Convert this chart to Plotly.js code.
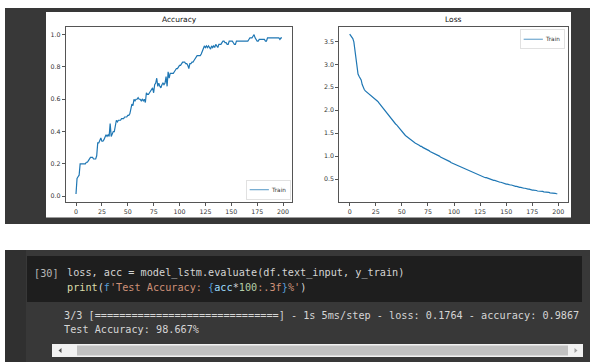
<!DOCTYPE html>
<html>
<head>
<meta charset="utf-8">
<script src="https://cdn.plot.ly/plotly-3.0.1.min.js"></script>
<style>html,body{margin:0;padding:0;background:#fff;}#chart{width:590px;height:362px;}</style>
</head>
<body>
<div id="chart"></div>
<script>
// ---------- data ----------
const accuracy = [
  0.013, 0.11, 0.12, 0.13, 0.20, 0.20, 0.20, 0.20, 0.20, 0.20,
  0.21, 0.21, 0.22, 0.23, 0.24, 0.24, 0.24, 0.23, 0.23, 0.23,
  0.25, 0.33, 0.33, 0.35, 0.36, 0.34, 0.34, 0.35, 0.37, 0.38,
  0.37, 0.38, 0.37, 0.45, 0.37, 0.39, 0.40, 0.40, 0.43, 0.47,
  0.46, 0.47, 0.47, 0.47, 0.48, 0.48, 0.48, 0.49, 0.49, 0.49,
  0.50, 0.50, 0.51, 0.54, 0.57, 0.56, 0.60, 0.59, 0.60, 0.60,
  0.61, 0.60, 0.60, 0.59, 0.60, 0.59, 0.60, 0.58, 0.64, 0.63,
  0.63, 0.64, 0.65, 0.66, 0.67, 0.64, 0.69, 0.70, 0.73, 0.68,
  0.70, 0.68, 0.67, 0.69, 0.70, 0.69, 0.70, 0.74, 0.68, 0.77,
  0.73, 0.76, 0.76, 0.76, 0.76, 0.77, 0.78, 0.79, 0.79, 0.80,
  0.81, 0.81, 0.82, 0.83, 0.83, 0.83, 0.82, 0.82, 0.81, 0.79,
  0.82, 0.82, 0.83, 0.83, 0.84, 0.85, 0.86, 0.87, 0.87, 0.87,
  0.87, 0.88, 0.90, 0.92, 0.93, 0.92, 0.93, 0.92, 0.93, 0.92,
  0.91, 0.93, 0.92, 0.93, 0.92, 0.94, 0.93, 0.92, 0.94, 0.94,
  0.94, 0.95, 0.96, 0.96, 0.95, 0.95, 0.94, 0.94, 0.96, 0.96,
  0.96, 0.96, 0.95, 0.94, 0.94, 0.96, 0.96, 0.96, 0.96, 0.96,
  0.96, 0.96, 0.96, 0.96, 0.96, 0.96, 0.96, 0.97, 0.98, 0.98,
  0.98, 0.99, 1.00, 0.98, 0.97, 0.96, 0.96, 0.97, 0.97, 0.97,
  0.97, 0.97, 0.97, 0.96, 0.96, 0.98, 0.98, 0.98, 0.98, 0.98,
  0.98, 0.98, 0.98, 0.98, 0.98, 0.98, 0.98, 0.97, 0.98, 0.98
];
const loss = [
  3.66, 3.63, 3.60, 3.56, 3.49, 3.32, 3.12, 2.90, 2.79, 2.74,
  2.70, 2.66, 2.56, 2.49, 2.45, 2.42, 2.40, 2.38, 2.37, 2.35,
  2.34, 2.32, 2.30, 2.28, 2.25, 2.23, 2.21, 2.19, 2.16, 2.13,
  2.10, 2.07, 2.04, 2.01, 1.98, 1.95, 1.92, 1.89, 1.86, 1.83,
  1.80, 1.78, 1.76, 1.73, 1.70, 1.68, 1.65, 1.62, 1.59, 1.56,
  1.54, 1.51, 1.49, 1.46, 1.44, 1.42, 1.40, 1.38, 1.36, 1.35,
  1.33, 1.31, 1.30, 1.28, 1.27, 1.26, 1.24, 1.23, 1.21, 1.21,
  1.19, 1.18, 1.17, 1.16, 1.14, 1.13, 1.12, 1.10, 1.09, 1.08,
  1.07, 1.06, 1.04, 1.03, 1.02, 1.01, 1.00, 0.98, 0.97, 0.96,
  0.95, 0.94, 0.92, 0.91, 0.90, 0.89, 0.88, 0.86, 0.85, 0.84,
  0.83, 0.82, 0.81, 0.80, 0.79, 0.78, 0.77, 0.76, 0.75, 0.74,
  0.73, 0.72, 0.71, 0.70, 0.69, 0.68, 0.67, 0.66, 0.65, 0.64,
  0.62, 0.61, 0.60, 0.59, 0.58, 0.57, 0.57, 0.56, 0.55, 0.54,
  0.53, 0.53, 0.52, 0.51, 0.50, 0.50, 0.49, 0.48, 0.47, 0.47,
  0.46, 0.45, 0.45, 0.44, 0.43, 0.43, 0.42, 0.41, 0.41, 0.40,
  0.39, 0.39, 0.38, 0.38, 0.37, 0.37, 0.36, 0.35, 0.35, 0.34,
  0.34, 0.33, 0.33, 0.32, 0.32, 0.31, 0.31, 0.30, 0.30, 0.29,
  0.29, 0.28, 0.28, 0.27, 0.27, 0.26, 0.26, 0.26, 0.25, 0.25,
  0.24, 0.24, 0.24, 0.23, 0.23, 0.23, 0.22, 0.22, 0.22, 0.21,
  0.21, 0.21, 0.20, 0.20, 0.20, 0.19, 0.19, 0.19, 0.18, 0.18
];
const epochs = accuracy.map((_, i) => i);
const xTicks = [0, 25, 50, 75, 100, 125, 150, 175, 200];
const accTicks = [0.0, 0.2, 0.4, 0.6, 0.8, 1.0];
const lossTicks = [0.5, 1.0, 1.5, 2.0, 2.5, 3.0, 3.5];
const seriesName = "Train";
const panelTitles = ["Accuracy", "Loss"];

// ---------- layout helpers (pixel -> paper) ----------
const W = 590, H = 362;
const px = x => x / W;
const py = y => 1 - y / H;
const rect = (x0, y0, x1, y1, color, line) => ({
  type: "rect", xref: "paper", yref: "paper", layer: "below",
  x0: px(x0), x1: px(x1), y0: py(y1), y1: py(y0),
  fillcolor: color, line: line || { width: 0 }
});

const lineColor = "#1f77b4";
const tickFont = { family: "DejaVu Sans", size: 6.3, color: "#333" };

const axisBase = {
  showgrid: false, zeroline: false, showline: true, mirror: true,
  linecolor: "#555", linewidth: 1, ticks: "outside", ticklen: 3,
  tickcolor: "#555", tickwidth: 1, tickfont: tickFont, fixedrange: true
};

const traces = [
  { x: epochs, y: accuracy, type: "scatter", mode: "lines", name: seriesName,
    line: { color: lineColor, width: 1.2 }, xaxis: "x", yaxis: "y", legend: "legend" },
  { x: epochs, y: loss, type: "scatter", mode: "lines", name: seriesName,
    line: { color: lineColor, width: 1.2 }, xaxis: "x2", yaxis: "y2", legend: "legend2" }
];

const mono = "DejaVu Sans Mono";
const codeSize = 10.2;
const C = { txt: "#d4d4d4", fn: "#dcdcaa", kw: "#569cd6", str: "#ce9178", num: "#b5cea8", vr: "#9cdcfe" };
const sp = (c, t) => `<span style="color:${c}">${t}</span>`;

const codeLine1 = sp(C.txt, "loss, acc = model_lstm.evaluate(df.text_input, y_train)");
const codeLine2 = sp(C.fn, "print") + sp(C.txt, "(") + sp(C.kw, "f") + sp(C.str, "'Test Accuracy: ") +
  sp(C.kw, "{") + sp(C.vr, "acc") + sp(C.txt, "*") + sp(C.num, "100") + sp(C.str, ":.3f") +
  sp(C.kw, "}") + sp(C.str, "%'") + sp(C.txt, ")");
const outLine1 = "3/3 [==============================] - 1s 5ms/step - loss: 0.1764 - accuracy: 0.9867";
const outLine2 = "Test Accuracy: 98.667%";

const textAnn = (x, y, text, color, size, family, anchor) => ({
  xref: "paper", yref: "paper", x: px(x), y: py(y), text: text,
  showarrow: false, xanchor: anchor || "left", yanchor: "middle",
  font: { family: family || mono, size: size || codeSize, color: color || C.txt }
});

const legendFont = { family: "DejaVu Sans", size: 9, color: "#333" };
const layout = {
  width: W, height: H,
  margin: { l: 0, r: 0, t: 0, b: 0, pad: 0 },
  paper_bgcolor: "#ffffff",
  plot_bgcolor: "rgba(0,0,0,0)",
  showlegend: true,
  xaxis: Object.assign({}, axisBase, { domain: [px(65.7), px(292.3)], range: [-9.95, 208.95],
    tickvals: xTicks, ticktext: xTicks.map(String), anchor: "y" }),
  yaxis: Object.assign({}, axisBase, { domain: [py(202), py(26.7)], range: [-0.036, 1.049],
    tickvals: accTicks, ticktext: accTicks.map(v => v.toFixed(1)), anchor: "x" }),
  xaxis2: Object.assign({}, axisBase, { domain: [px(339.3), px(567.7)], range: [-9.95, 208.95],
    tickvals: xTicks, ticktext: xTicks.map(String), anchor: "y2" }),
  yaxis2: Object.assign({}, axisBase, { domain: [py(202), py(26.7)], range: [0.0, 3.82],
    tickvals: lossTicks, ticktext: lossTicks.map(v => v.toFixed(1)), anchor: "x2" }),
  legend: {
    x: px(290), y: py(199), xanchor: "right", yanchor: "bottom", xref: "paper", yref: "paper",
    bgcolor: "#ffffff", bordercolor: "#d0d0d0", borderwidth: 1,
    font: legendFont, itemwidth: 30, tracegroupgap: 0
  },
  legend2: {
    x: px(564), y: py(29.3), xanchor: "right", yanchor: "top", xref: "paper", yref: "paper",
    bgcolor: "#ffffff", bordercolor: "#d0d0d0", borderwidth: 1,
    font: legendFont, itemwidth: 30, tracegroupgap: 0
  },
  shapes: [
    rect(5, 8, 590, 224, "#383838"),
    rect(46, 12, 571, 217.6, "#ffffff"),
    rect(5, 250, 590, 362, "#383838"),
    rect(5, 250, 26, 362, "#303030"),
    rect(27, 256, 582, 302, "#1e1e1e"),
    rect(52, 344, 583, 357, "#f1f1f1"),
    rect(77, 345.5, 568, 355.5, "#c1c1c1"),
    { type: "path", xref: "paper", yref: "paper", layer: "below",
      path: `M ${px(58.5)} ${py(350.5)} L ${px(61.5)} ${py(348)} L ${px(61.5)} ${py(353)} Z`,
      fillcolor: "#505050", line: { width: 0 } },
    { type: "path", xref: "paper", yref: "paper", layer: "below",
      path: `M ${px(577.5)} ${py(350.5)} L ${px(574.5)} ${py(348)} L ${px(574.5)} ${py(353)} Z`,
      fillcolor: "#a0a0a0", line: { width: 0 } }
  ],
  annotations: [
    textAnn(179, 20, panelTitles[0], "#111", 7.5, "DejaVu Sans", "center"),
    textAnn(453.5, 20, panelTitles[1], "#111", 7.5, "DejaVu Sans", "center"),
    textAnn(32.3, 273, "[30]", "#b8b8b8"),
    textAnn(65, 273, codeLine1),
    textAnn(65, 287, codeLine2),
    textAnn(62, 315.5, outLine1, "#d5d5d5"),
    textAnn(62, 329, outLine2, "#d5d5d5")
  ]
};

// compact matplotlib-like legends: scale the drawn legend boxes, keeping their anchor corner
const legendScale = 0.64;
const legendTargets = [
  { cls: "legend", right: 290, bottom: 199 },
  { cls: "legend2", right: 564, top: 29.3 }
];

Plotly.newPlot("chart", traces, layout, { staticPlot: true, displayModeBar: false }).then(gd => {
  legendTargets.forEach(t => {
    const g = gd.querySelector("g." + t.cls);
    if (!g) return;
    const bg = g.querySelector("rect.bg");
    if (!bg) return;
    const w = parseFloat(bg.getAttribute("width")) || 0;
    const h = parseFloat(bg.getAttribute("height")) || 0;
    const s = legendScale;
    const tx = t.right - w * s;
    const ty = (t.bottom !== undefined) ? t.bottom - h * s : t.top;
    g.setAttribute("transform", `translate(${tx},${ty}) scale(${s})`);
  });
});
</script>
</body>
</html>
